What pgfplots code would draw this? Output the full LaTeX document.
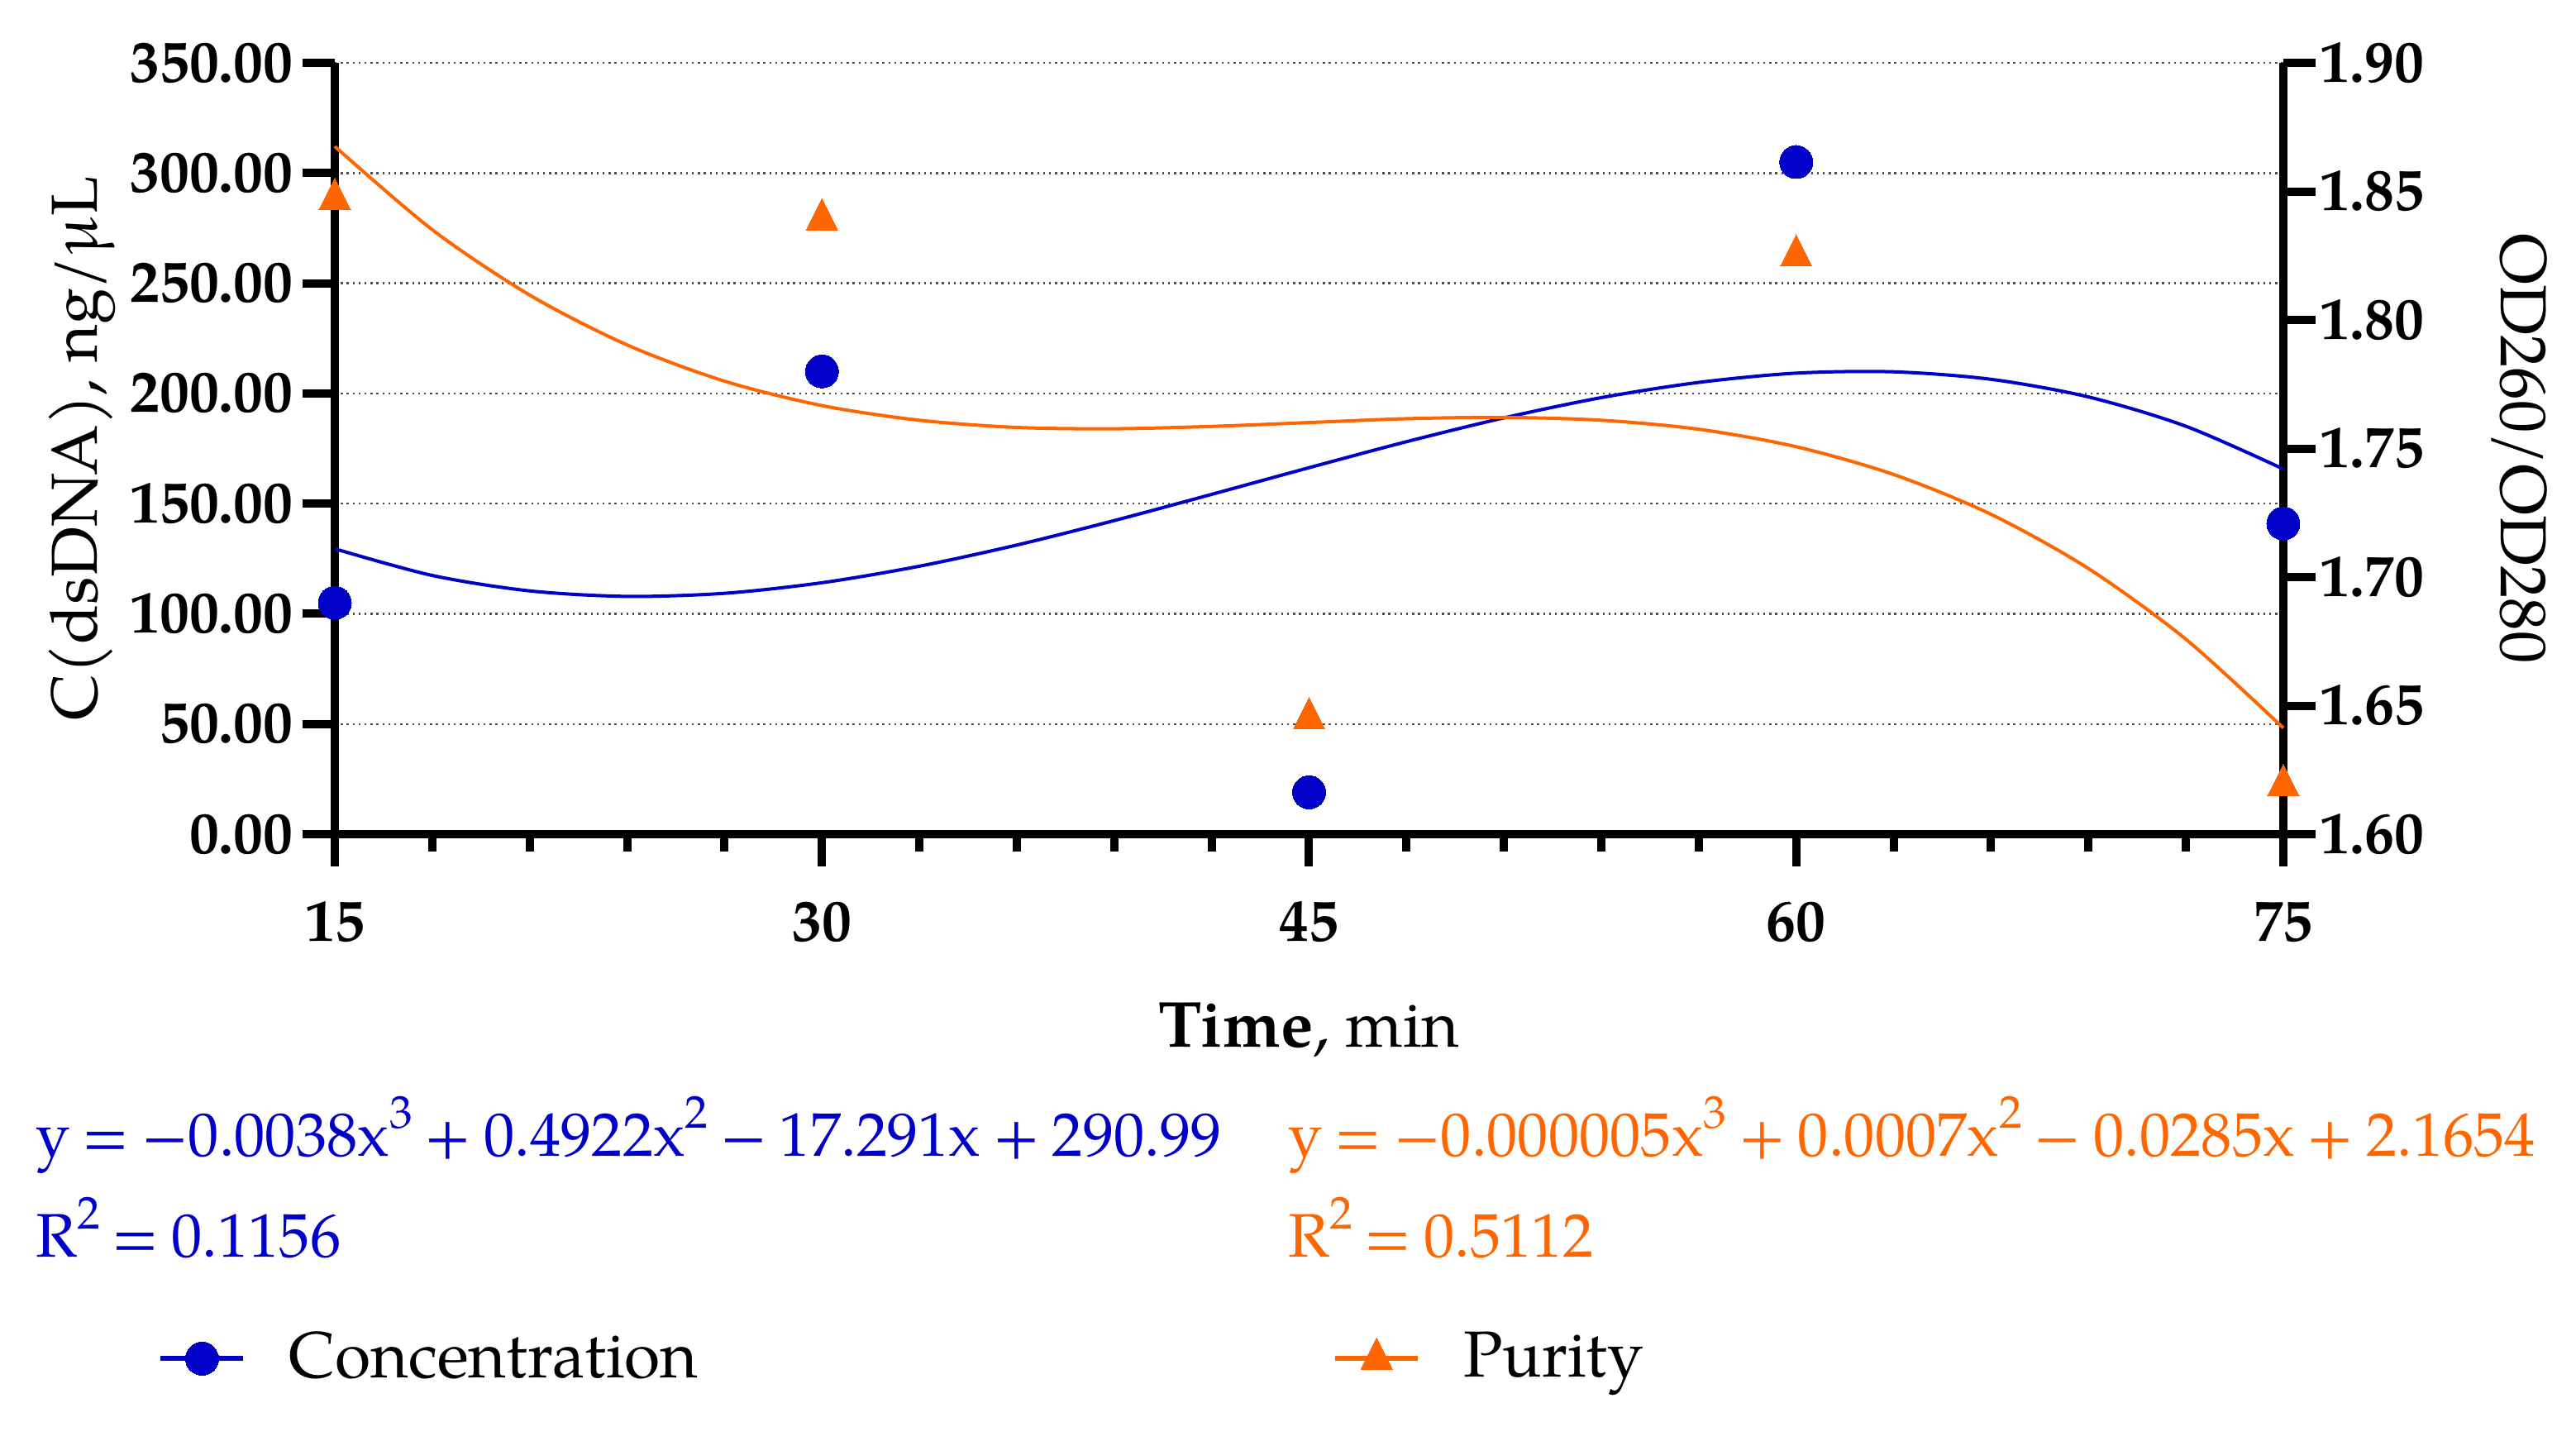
\documentclass[border=0pt]{standalone}
\usepackage{fontspec}
\setmainfont{TeX Gyre Pagella}
\usepackage{pgfplots}
\pgfplotsset{compat=1.18}
\definecolor{cblue}{RGB}{0,0,200}
\definecolor{corange}{RGB}{255,102,0}
\newcommand\sq[1]{\raisebox{0.95ex}{\fontsize{7.9}{8}\selectfont #1}}
\newcommand\eqfont{\fontsize{10.6}{13}\selectfont\spaceskip=0.2em\relax}
\pgfplotsset{
  set layers,
  every non boxed x axis/.append style={x axis line style={-}},
  every non boxed y axis/.append style={y axis line style={-}},
  base/.style={
    at={(0,0)}, anchor=south west,
    scale only axis, width=117.85mm, height=46.65mm,
    xmin=15, xmax=75, clip=false,
    tick align=outside,
    axis line style={line width=0.5mm, black},
    major tick length=1.95mm, minor tick length=1.05mm,
    tick style={black, line width=0.5mm},
    tick label style={font=\fontsize{10.2}{12}\selectfont\bfseries, inner sep=0pt},
    /pgf/number format/assume math mode=true,
    label style={font=\fontsize{11.2}{13}\selectfont},
    legend style={draw=none, fill=none, inner sep=0pt,
      nodes={inner sep=0pt, font=\fontsize{11.2}{13}\selectfont}},
  },
  legimg/.style={legend image code/.code={%
    \draw[mark repeat=2, mark phase=2, ##1] plot coordinates {(0mm,0mm) (2.5mm,0mm) (5mm,0mm)};
    \path[draw=none, fill=none] (0mm,0mm) -- (7.75mm,0mm);}},
}

\begin{document}
\begin{tikzpicture}

% concentration, left axis
\begin{axis}[base,
  axis x line*=bottom, axis y line*=left,
  ymin=0, ymax=350, ytick={0,50,...,350},
  xtick={15,30,45,60,75}, minor x tick num=4,
  yticklabel style={anchor=east, xshift=-0.5mm,
    /pgf/number format/fixed, /pgf/number format/fixed zerofill,
    /pgf/number format/precision=2},
  xticklabel style={anchor=base, yshift=-4.5mm},
  ymajorgrids,
  major grid style={line width=0.12mm, black!70, dash pattern=on 0.12mm off 0.24mm},
  xlabel={\textbf{Time}, min},
  xlabel style={at={(axis description cs:0.5,-0.2765)}, anchor=base},
  ylabel={C(dsDNA), ng/μL},
  ylabel style={at={(axis description cs:-0.1218,0.5)}, anchor=base},
  legend style={at={(axis description cs:-0.0912,-0.6800)}, anchor=west},
]
\addplot[forget plot, only marks, mark=*, cblue, mark size=1mm,
  mark options={line width=0pt}] coordinates {
  (15,105) (30,210) (45,19) (60,305) (75,141)
};
\addplot[forget plot, cblue, line width=0.2mm, smooth] coordinates {
  (15,129.5) (18,117.4) (21,110.4) (24,107.9) (27,109.3) (30,114.1)
  (33,121.6) (36,131.2) (39,142.3) (42,154.2) (45,166.3) (48,178.1)
  (51,188.9) (54,198.1) (57,205.0) (60,209.2) (63,209.8) (66,206.4)
  (69,198.4) (72,185.1) (75,165.7)
};
\addlegendimage{legimg, cblue, line width=0.3mm, mark=*, mark size=1mm,
  mark options={line width=0pt}}
\addlegendentry{Concentration}
\end{axis}

% purity, right axis
\begin{axis}[base,
  axis x line=none, axis y line*=right,
  ymin=1.6, ymax=1.9, ytick={1.60,1.65,1.70,1.75,1.80,1.85,1.90},
  yticklabel style={anchor=west, xshift=0.2mm,
    /pgf/number format/fixed, /pgf/number format/fixed zerofill,
    /pgf/number format/precision=2},
  ylabel={OD260/OD280},
  ylabel style={at={(axis description cs:1.1116,0.5)}, anchor=base, rotate=-180},
  legend style={at={(axis description cs:0.5116,-0.6800)}, anchor=west},
]
\addplot[forget plot, only marks, mark=triangle*, corange, mark size=1.1mm,
  mark options={line width=0pt, yscale=1.15}] coordinates {
  (15,1.847) (30,1.839) (45,1.645) (60,1.825) (75,1.619)
};
\addplot[forget plot, corange, line width=0.2mm, smooth] coordinates {
  (15,1.8675) (18,1.8351) (21,1.8097) (24,1.7903) (27,1.7762) (30,1.7667)
  (33,1.7610) (36,1.7582) (39,1.7577) (42,1.7586) (45,1.7601) (48,1.7616)
  (51,1.7621) (54,1.7610) (57,1.7575) (60,1.7507) (63,1.7399) (66,1.7244)
  (69,1.7033) (72,1.6758) (75,1.6413)
};
\addlegendimage{legimg, corange, line width=0.3mm, mark=triangle*, mark size=1.1mm,
  mark options={line width=0pt, yscale=1.15}}
\addlegendentry{Purity}
\end{axis}

% fitted equations
\begin{scope}[every node/.style={anchor=base west, inner sep=0pt}]
\node[text=cblue] at (-18.15mm,-19.45mm)
  {\eqfont y = −0.0038x\sq{3} + 0.4922x\sq{2} − 17.291x + 290.99};
\node[text=cblue] at (-18.15mm,-25.55mm) {\eqfont R\sq{2} = 0.1156};
\node[text=corange] at (57.6mm,-19.45mm)
  {\eqfont y = −0.000005x\sq{3} + 0.0007x\sq{2} − 0.0285x + 2.1654};
\node[text=corange] at (57.6mm,-25.55mm) {\eqfont R\sq{2} = 0.5112};
\end{scope}

\pgfresetboundingbox
\useasboundingbox (-20.25mm,-36.65mm) rectangle (135.55mm,50.45mm);
\end{tikzpicture}
\end{document}
